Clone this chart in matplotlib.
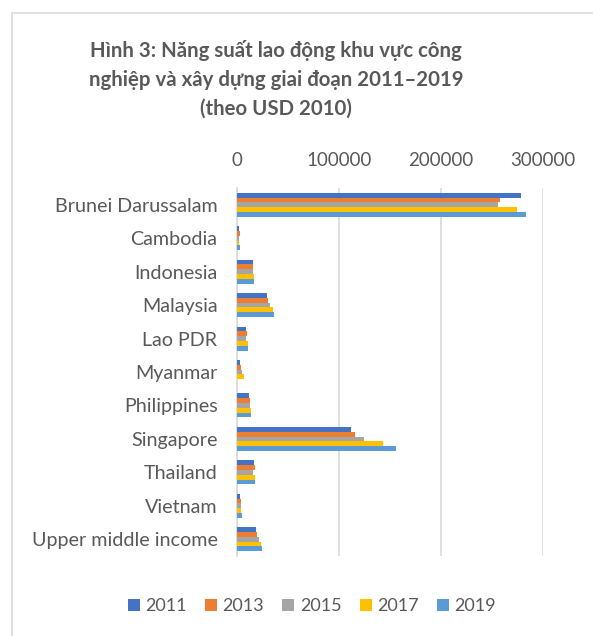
import numpy as np
import matplotlib
matplotlib.use("Agg")
from matplotlib import pyplot as plt
from matplotlib.patches import Rectangle

# Data (USD 2010)
countries = ["Brunei Darussalam", "Cambodia", "Indonesia", "Malaysia", "Lao PDR",
             "Myanmar", "Philippines", "Singapore", "Thailand", "Vietnam",
             "Upper middle income"]
years = ["2011", "2013", "2015", "2017", "2019"]
v2011 = [278400, 2000, 15400, 29000, 8800, 2900, 11400, 111800, 16700, 2900, 18600]
v2013 = [257800, 3000, 15400, 30000, 9500, 3600, 12400, 115700, 17300, 3600, 19600]
v2015 = [255800, 2000, 15400, 32700, 9200, 4900, 13000, 124500, 15700, 3900, 21200]
v2017 = [274500, 2000, 16300, 35000, 10500, 6500, 13400, 143500, 17300, 3900, 23500]
v2019 = [283300, 3000, 16300, 36000, 10800, 0, 13700, 156000, 18000, 4900, 24500]
colors = ["#4472c4", "#ed7d31", "#a5a5a5", "#ffc000", "#5b9bd5"]

plt.rcParams['font.family'] = ['Lato', 'DejaVu Sans']
text_col = "#595959"

fig = plt.figure(figsize=(5.93, 6.36), dpi=100)
ax = fig.add_axes([237 / 593, 1 - 556 / 636, (543 - 237) / 593, (556 - 188) / 636])

series = [v2011, v2013, v2015, v2017, v2019]
n = len(series)
bar_h = 0.144
y = np.arange(len(countries))
for i, (vals, col) in enumerate(zip(series, colors)):
    offset = (i - (n - 1) / 2) * bar_h
    ax.barh(y + offset, vals, height=bar_h, color=col, label=years[i], zorder=3)

ax.set_ylim(len(countries) - 0.5, -0.5)
ax.set_xlim(0, 300000)
ax.set_xticks([0, 100000, 200000, 300000])
ax.xaxis.tick_top()
ax.tick_params(axis='x', length=0, pad=14, labelsize=13.5, labelcolor=text_col)
ax.set_yticks(y)
ax.set_yticklabels(countries)
ax.tick_params(axis='y', length=0, pad=14, labelsize=14.2, labelcolor=text_col)
ax.grid(axis='x', color="#d9d9d9", linewidth=1.2, zorder=0)
for s in ['top', 'right', 'bottom']:
    ax.spines[s].set_visible(False)
ax.spines['left'].set_color("#d9d9d9")
ax.spines['left'].set_linewidth(1.2)

fig.text(276 / 593, 1 - 79 / 636,
         "Hình 3: Năng suất lao động khu vực công\nnghiệp và xây dựng giai đoạn 2011–2019\n(theo USD 2010)",
         ha='center', va='center', fontsize=14.7, fontweight='bold', color=text_col,
         linespacing=1.55)

fig.legend(loc='center', bbox_to_anchor=(312 / 593, 1 - 606 / 636), ncol=5, frameon=False,
           fontsize=13, handlelength=0.67, handleheight=0.67, handletextpad=0.3,
           columnspacing=1.0, labelcolor=text_col)

# chart frame
fig.patches.append(Rectangle((12 / 593, -0.1), 1.0, 1 - 13 / 636 + 0.1,
                             transform=fig.transFigure, fill=False,
                             edgecolor="#d9d9d9", linewidth=1.2))

fig.savefig("out.png", dpi=100)
